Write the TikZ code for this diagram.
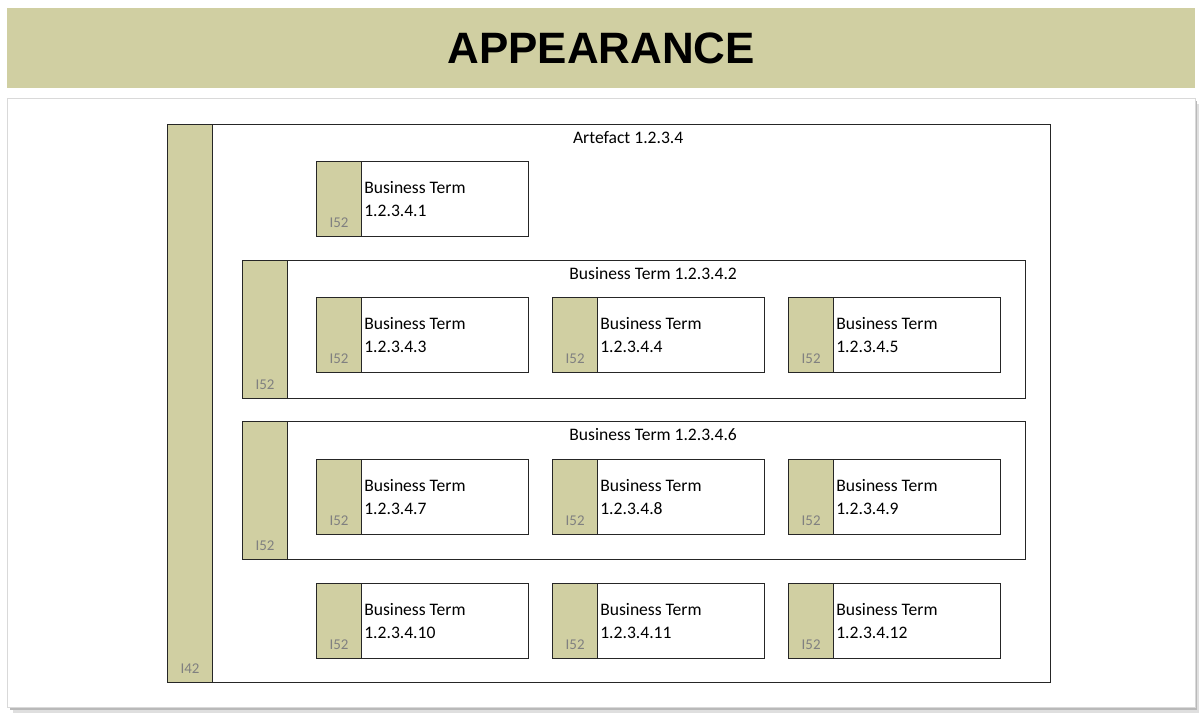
\documentclass[tikz,border=0pt]{standalone}
\usepackage{fontspec}
\setmainfont{Carlito}
\newfontfamily\headfont{Liberation Sans}
\usetikzlibrary{calc}
\usetikzlibrary{positioning}
\definecolor{khaki}{HTML}{D0CFA2}
\tikzset{
  box/.style={rectangle, draw=black!85, fill=white, line width=0.7pt, anchor=north west, inner sep=0pt},
  termbox/.style={box, minimum width=4.24cm, minimum height=1.5cm},
  groupbox/.style={box, minimum width=15.66cm, minimum height=2.76cm},
  bar/.style={rectangle, draw=black!85, fill=khaki, line width=0.7pt, anchor=north west, minimum width=0.9cm, inner sep=0pt},
  termbar/.style={bar, minimum height=1.5cm},
  groupbar/.style={bar, minimum height=2.76cm},
  termtext/.style={anchor=west, align=left, inner sep=1pt, font=\fontsize{10}{13}\selectfont},
  tag/.style={anchor=base, yshift=0.2cm, text=gray, inner sep=0pt, font=\fontsize{8.5}{10}\selectfont},
  grouptitle/.style={anchor=center, yshift=-0.28cm, xshift=-0.08cm, inner sep=0pt, font=\fontsize{10}{13}\selectfont}
}

\begin{document}
\begin{tikzpicture}[x=0.02cm, y=-0.02cm]
\useasboundingbox (0,0) rectangle (1200,717);
% heading band
\node [rectangle, fill=khaki, minimum width=23.76cm, minimum height=1.6cm, anchor=north west] (head) at (7,8) {};
\node [font=\headfont\bfseries\fontsize{25}{30}\selectfont] (headtext) at (head.center) {APPEARANCE};
% panel and its shadow
\fill [gray!25] (13,104) rectangle (1199,713);
\fill [gray!55] (10,101) rectangle (1197,710);
\node [rectangle, draw=gray!30, fill=white, minimum width=23.76cm, minimum height=12.18cm, anchor=north west] (panel) at (7,98) {};

% artefact
\node [box, minimum width=17.66cm, minimum height=11.16cm] (art) at (167,124) {};
\node [bar, minimum height=11.16cm] (artbar) at (art.north west) {};
\node [tag] (arttag) at (artbar.south) {I42};
\node [grouptitle] (arttitle) at ($(artbar.north east)!0.5!(art.north east)$) {Artefact 1.2.3.4};

% business term 1.2.3.4.1
\node [termbox] (t1) at (316,161) {};
\node [termbar] (t1bar) at (t1.north west) {};
\node [tag] (t1tag) at (t1bar.south) {I52};
\node [termtext] (t1text) at (t1bar.east) {Business Term\\1.2.3.4.1};

% group 1.2.3.4.2
\node [groupbox] (g2) at (242,260) {};
\node [groupbar] (g2bar) at (g2.north west) {};
\node [tag] (g2tag) at (g2bar.south) {I52};
\node [grouptitle] (g2title) at ($(g2bar.north east)!0.5!(g2.north east)$) {Business Term 1.2.3.4.2};

\node [termbox] (t3) at (316,297) {};
\node [termbar] (t3bar) at (t3.north west) {};
\node [tag] (t3tag) at (t3bar.south) {I52};
\node [termtext] (t3text) at (t3bar.east) {Business Term\\1.2.3.4.3};

\node [termbox] (t4) at (552,297) {};
\node [termbar] (t4bar) at (t4.north west) {};
\node [tag] (t4tag) at (t4bar.south) {I52};
\node [termtext] (t4text) at (t4bar.east) {Business Term\\1.2.3.4.4};

\node [termbox] (t5) at (788,297) {};
\node [termbar] (t5bar) at (t5.north west) {};
\node [tag] (t5tag) at (t5bar.south) {I52};
\node [termtext] (t5text) at (t5bar.east) {Business Term\\1.2.3.4.5};

% group 1.2.3.4.6
\node [groupbox] (g6) at (242,421) {};
\node [groupbar] (g6bar) at (g6.north west) {};
\node [tag] (g6tag) at (g6bar.south) {I52};
\node [grouptitle] (g6title) at ($(g6bar.north east)!0.5!(g6.north east)$) {Business Term 1.2.3.4.6};

\node [termbox] (t7) at (316,459) {};
\node [termbar] (t7bar) at (t7.north west) {};
\node [tag] (t7tag) at (t7bar.south) {I52};
\node [termtext] (t7text) at (t7bar.east) {Business Term\\1.2.3.4.7};

\node [termbox] (t8) at (552,459) {};
\node [termbar] (t8bar) at (t8.north west) {};
\node [tag] (t8tag) at (t8bar.south) {I52};
\node [termtext] (t8text) at (t8bar.east) {Business Term\\1.2.3.4.8};

\node [termbox] (t9) at (788,459) {};
\node [termbar] (t9bar) at (t9.north west) {};
\node [tag] (t9tag) at (t9bar.south) {I52};
\node [termtext] (t9text) at (t9bar.east) {Business Term\\1.2.3.4.9};

% last row
\node [termbox] (t10) at (316,583) {};
\node [termbar] (t10bar) at (t10.north west) {};
\node [tag] (t10tag) at (t10bar.south) {I52};
\node [termtext] (t10text) at (t10bar.east) {Business Term\\1.2.3.4.10};

\node [termbox] (t11) at (552,583) {};
\node [termbar] (t11bar) at (t11.north west) {};
\node [tag] (t11tag) at (t11bar.south) {I52};
\node [termtext] (t11text) at (t11bar.east) {Business Term\\1.2.3.4.11};

\node [termbox] (t12) at (788,583) {};
\node [termbar] (t12bar) at (t12.north west) {};
\node [tag] (t12tag) at (t12bar.south) {I52};
\node [termtext] (t12text) at (t12bar.east) {Business Term\\1.2.3.4.12};
\end{tikzpicture}
\end{document}
